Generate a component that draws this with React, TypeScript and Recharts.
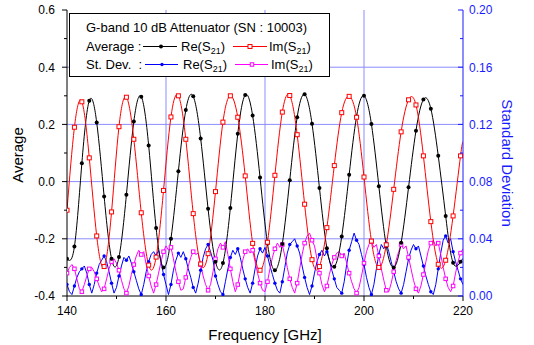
import React from "react";
import { LineChart, Line, XAxis, YAxis, CartesianGrid } from "recharts";

const FONT = "Arial, 'Liberation Sans', sans-serif";
const AXIS_BLUE = "#1a1aff";
const GRID_BLUE = "#8c8cff";
const C_RE = "#000000";
const C_IM = "#ff0000";
const C_SD_RE = "#0000ff";
const C_SD_IM = "#ff00ff";

// average curves: one value per marker (every 1.5 GHz) + end point at 220
const avgFreq = [
  140, 141.5, 143, 144.5, 146, 147.5, 149, 150.5, 152, 153.5, 155, 156.5, 158, 159.5,
  161, 162.5, 164, 165.5, 167, 168.5, 170, 171.5, 173, 174.5, 176, 177.5, 179, 180.5,
  182, 183.5, 185, 186.5, 188, 189.5, 191, 192.5, 194, 195.5, 197, 198.5, 200, 201.5,
  203, 204.5, 206, 207.5, 209, 210.5, 212, 213.5, 215, 216.5, 218, 219.5, 220,
];
const avgRe = [
  -0.27, -0.227, 0.064, 0.283, 0.207, -0.052, -0.27, -0.264, -0.046, 0.21, 0.297, 0.126,
  -0.162, -0.3, -0.2, 0.036, 0.25, 0.298, 0.151, -0.095, -0.28, -0.285, -0.092, 0.167,
  0.303, 0.231, 0.014, -0.216, -0.31, -0.218, 0.005, 0.225, 0.305, 0.202, -0.022, -0.233,
  -0.298, -0.192, 0.024, 0.228, 0.3, 0.201, -0.016, -0.225, -0.3, -0.214, -0.02, 0.178,
  0.287, 0.255, 0.09, -0.12, -0.284, -0.28, -0.27,
];
const avgIm = [
  -0.1, 0.19, 0.279, 0.083, -0.19, -0.297, -0.106, 0.192, 0.295, 0.148, -0.109, -0.292,
  -0.264, -0.031, 0.226, 0.3, 0.148, -0.112, -0.288, -0.252, -0.035, 0.208, 0.3, 0.225,
  0.02, -0.216, -0.31, -0.212, 0.022, 0.243, 0.301, 0.164, -0.079, -0.273, -0.297, -0.161,
  0.056, 0.241, 0.298, 0.225, 0.016, -0.208, -0.3, -0.221, -0.027, 0.174, 0.286, 0.268,
  0.09, -0.14, -0.289, -0.275, -0.12, 0.09, 0.14,
];

// standard deviation: 0.5 GHz steps from 140 to 220
const SD_START = 140;
const SD_STEP = 0.5;
const sdRe = [
  0.008, 0.003, 0.001, 0.007, 0.013, 0.017, 0.019, 0.021, 0.016, 0.008,
  0.002, 0.008, 0.016, 0.022, 0.025, 0.028, 0.024, 0.017, 0.009, 0.002,
  0.006, 0.014, 0.021, 0.027, 0.025, 0.028, 0.023, 0.017, 0.011, 0.005,
  0.001, 0.008, 0.017, 0.024, 0.029, 0.031, 0.028, 0.032, 0.024, 0.015,
  0.008, 0.001, 0.008, 0.018, 0.025, 0.03, 0.027, 0.031, 0.026, 0.019,
  0.013, 0.006, 0.002, 0.009, 0.018, 0.027, 0.033, 0.036, 0.031, 0.025,
  0.014, 0.008, 0.003, 0.001, 0.01, 0.019, 0.027, 0.032, 0.029, 0.033,
  0.027, 0.019, 0.012, 0.006, 0.002, 0.009, 0.019, 0.028, 0.033, 0.03,
  0.034, 0.028, 0.021, 0.015, 0.009, 0.004, 0.002, 0.01, 0.02, 0.03,
  0.036, 0.038, 0.04, 0.035, 0.03, 0.021, 0.013, 0.006, 0.001, 0.007,
  0.016, 0.024, 0.029, 0.032, 0.028, 0.031, 0.025, 0.018, 0.012, 0.006,
  0.004, 0.002, 0.01, 0.022, 0.032, 0.038, 0.044, 0.039, 0.036, 0.029,
  0.022, 0.013, 0.006, 0.001, 0.008, 0.019, 0.029, 0.036, 0.033, 0.037,
  0.031, 0.024, 0.017, 0.01, 0.005, 0.002, 0.008, 0.017, 0.026, 0.032,
  0.036, 0.033, 0.035, 0.028, 0.021, 0.014, 0.008, 0.003, 0.001, 0.008,
  0.019, 0.03, 0.039, 0.042, 0.037, 0.04, 0.031, 0.024, 0.018, 0.012,
  0.008,
];
const sdIm = [
  0.016, 0.02, 0.022, 0.019, 0.012, 0.005, 0.003, 0.008, 0.014, 0.019,
  0.02, 0.017, 0.012, 0.007, 0.003, 0.005, 0.012, 0.019, 0.024, 0.026,
  0.023, 0.018, 0.011, 0.005, 0.002, 0.007, 0.015, 0.022, 0.028, 0.032,
  0.029, 0.031, 0.022, 0.014, 0.007, 0.002, 0.008, 0.016, 0.024, 0.031,
  0.035, 0.032, 0.034, 0.026, 0.017, 0.01, 0.004, 0.005, 0.013, 0.021,
  0.027, 0.031, 0.029, 0.03, 0.022, 0.014, 0.008, 0.004, 0.008, 0.017,
  0.026, 0.033, 0.037, 0.034, 0.038, 0.029, 0.019, 0.01, 0.003, 0.008,
  0.017, 0.025, 0.031, 0.033, 0.03, 0.032, 0.024, 0.016, 0.009, 0.004,
  0.003, 0.01, 0.019, 0.027, 0.033, 0.037, 0.034, 0.036, 0.028, 0.02,
  0.012, 0.006, 0.002, 0.009, 0.019, 0.029, 0.037, 0.042, 0.044, 0.039,
  0.035, 0.026, 0.016, 0.008, 0.003, 0.007, 0.015, 0.022, 0.027, 0.03,
  0.031, 0.028, 0.03, 0.023, 0.016, 0.01, 0.005, 0.002, 0.006, 0.014,
  0.023, 0.031, 0.036, 0.038, 0.034, 0.036, 0.028, 0.019, 0.011, 0.004,
  0.003, 0.009, 0.017, 0.025, 0.031, 0.036, 0.033, 0.035, 0.027, 0.019,
  0.011, 0.005, 0.002, 0.007, 0.015, 0.024, 0.032, 0.037, 0.039, 0.035,
  0.037, 0.029, 0.02, 0.012, 0.006, 0.003, 0.007, 0.016, 0.024, 0.03,
  0.033,
];

const xTicks = [140, 150, 160, 170, 180, 190, 200, 210, 220];
const leftTicks = [-0.4, -0.3, -0.2, -0.1, 0, 0.1, 0.2, 0.3, 0.4, 0.5, 0.6];
const rightTicks = [0, 0.02, 0.04, 0.06, 0.08, 0.1, 0.12, 0.14, 0.16, 0.18, 0.2];
const gridY = [-0.2, 0, 0.2, 0.4];
const gridX = [160, 180, 200];

const avgData = avgFreq.map((f, i) => ({ f, re: avgRe[i], im: avgIm[i] }));
const sdData = sdRe.map((v, i) => ({ f: SD_START + i * SD_STEP, re: v, im: sdIm[i] }));

const BottomTick = (p: any) => {
  const v = p.payload.value;
  const major = v % 20 === 0;
  const axisY = p.y - 10;
  return (
    <g>
      <line x1={p.x} x2={p.x} y1={axisY} y2={axisY + (major ? 5 : 3)} stroke="#000" />
      {major && (
        <text x={p.x} y={p.y} dy="0.71em" textAnchor="middle" fontSize={12} fontFamily={FONT} fill="#000">
          {v}
        </text>
      )}
    </g>
  );
};

const TopTick = (p: any) => {
  const major = p.payload.value % 20 === 0;
  return <line x1={p.x} x2={p.x} y1={p.y} y2={p.y + (major ? 5 : 3)} stroke="#000" />;
};

const LeftTick = (p: any) => {
  const v = p.payload.value;
  const major = Math.round(v * 10) % 2 === 0;
  const axisX = p.x + 12;
  return (
    <g>
      <line x1={axisX - (major ? 5 : 3)} x2={axisX} y1={p.y} y2={p.y} stroke="#000" />
      {major && (
        <text x={p.x} y={p.y} dy="0.36em" textAnchor="end" fontSize={12} fontFamily={FONT} fill="#000">
          {v.toFixed(1)}
        </text>
      )}
    </g>
  );
};

const RightTick = (p: any) => {
  const v = p.payload.value;
  const major = Math.round(v * 100) % 4 === 0;
  const axisX = p.x - 6;
  return (
    <g>
      <line x1={axisX - (major ? 5 : 3)} x2={axisX} y1={p.y} y2={p.y} stroke={AXIS_BLUE} />
      {major && (
        <text x={p.x} y={p.y} dy="0.36em" textAnchor="start" fontSize={12} fontFamily={FONT} fill={AXIS_BLUE}>
          {v.toFixed(2)}
        </text>
      )}
    </g>
  );
};

const roundDot = (color: string, r: number, every: number, skipLast: number) => (p: any) => {
  if (p.cx == null || p.index % every !== 0 || p.index >= skipLast) return <g key={p.index} />;
  return <circle key={p.index} cx={p.cx} cy={p.cy} r={r} fill={color} stroke="none" />;
};

const squareDot = (color: string, s: number, every: number, skipLast: number) => (p: any) => {
  if (p.cx == null || p.index % every !== 0 || p.index >= skipLast) return <g key={p.index} />;
  return (
    <rect key={p.index} x={p.cx - s / 2} y={p.cy - s / 2} width={s} height={s} fill="#fff" stroke={color} strokeWidth={1} />
  );
};

const Sub = ({ main }: { main: string }) => (
  <>
    {main}
    <tspan fontSize={9} dy={3}>21</tspan>
    <tspan dy={-3}>)</tspan>
  </>
);

export default function App() {
  const lastAvg = avgFreq.length - 1;
  return (
    <div style={{ position: "relative", width: 534, height: 345, background: "#fff" }}>
      <style>{"body{margin:0}"}</style>
      <LineChart width={534} height={345} margin={{ top: 10, right: 11, bottom: 19, left: 17 }}>
        <CartesianGrid
          xAxisId="b"
          yAxisId="l"
          horizontalValues={gridY}
          verticalValues={gridX}
          stroke={GRID_BLUE}
          strokeWidth={1}
        />
        <XAxis
          xAxisId="b"
          dataKey="f"
          type="number"
          domain={[140, 220]}
          ticks={xTicks}
          interval={0}
          height={30}
          tickLine={false}
          tickSize={0}
          tickMargin={10}
          tick={BottomTick}
          axisLine={{ stroke: "#000" }}
          allowDataOverflow
        />
        <XAxis
          xAxisId="t"
          orientation="top"
          dataKey="f"
          type="number"
          domain={[140, 220]}
          ticks={xTicks}
          interval={0}
          height={0}
          tickLine={false}
          tickSize={0}
          tickMargin={0}
          tick={TopTick}
          axisLine={{ stroke: "#000" }}
          allowDataOverflow
        />
        <YAxis
          yAxisId="l"
          type="number"
          domain={[-0.4, 0.6]}
          ticks={leftTicks}
          interval={0}
          width={50}
          tickLine={false}
          tickSize={0}
          tickMargin={12}
          tick={LeftTick}
          axisLine={{ stroke: "#000" }}
          allowDataOverflow
        />
        <YAxis
          yAxisId="r"
          orientation="right"
          type="number"
          domain={[0, 0.2]}
          ticks={rightTicks}
          interval={0}
          width={60}
          tickLine={false}
          tickSize={0}
          tickMargin={6}
          tick={RightTick}
          axisLine={{ stroke: AXIS_BLUE }}
          allowDataOverflow
        />
        <Line
          xAxisId="b"
          yAxisId="r"
          data={sdData}
          dataKey="re"
          type="linear"
          stroke={C_SD_RE}
          strokeWidth={1}
          dot={roundDot(C_SD_RE, 1.7, 3, 9999)}
          activeDot={false}
          isAnimationActive={false}
        />
        <Line
          xAxisId="b"
          yAxisId="r"
          data={sdData}
          dataKey="im"
          type="linear"
          stroke={C_SD_IM}
          strokeWidth={1}
          dot={squareDot(C_SD_IM, 3.5, 3, 9999)}
          activeDot={false}
          isAnimationActive={false}
        />
        <Line
          xAxisId="b"
          yAxisId="l"
          data={avgData}
          dataKey="re"
          type="natural"
          stroke={C_RE}
          strokeWidth={1}
          dot={roundDot(C_RE, 2, 1, lastAvg)}
          activeDot={false}
          isAnimationActive={false}
        />
        <Line
          xAxisId="b"
          yAxisId="l"
          data={avgData}
          dataKey="im"
          type="natural"
          stroke={C_IM}
          strokeWidth={1}
          dot={squareDot(C_IM, 4, 1, lastAvg)}
          activeDot={false}
          isAnimationActive={false}
        />
      </LineChart>

      <svg
        width={534}
        height={345}
        style={{ position: "absolute", left: 0, top: 0, pointerEvents: "none" }}
        fontFamily={FONT}
      >
        <text x={17} y={155} transform="rotate(-90 17 155)" textAnchor="middle" dominantBaseline="central" fontSize={15}>
          Average
        </text>
        <text x={507} y={163} transform="rotate(90 507 163)" textAnchor="middle" dominantBaseline="central" fontSize={15} fill={AXIS_BLUE}>
          Standard Deviation
        </text>
        <text x={265} y={334} textAnchor="middle" dominantBaseline="central" fontSize={15}>
          Frequency [GHz]
        </text>

        <rect x={69.5} y={13.5} width={260} height={63} fill="#fff" stroke="#000" strokeWidth={1} />
        <text x={86} y={32} fontSize={13}>G-band 10 dB Attenuator (SN : 10003)</text>

        <text x={86} y={51} fontSize={13} style={{ whiteSpace: "pre" }}>Average :</text>
        <line x1={143} x2={177} y1={46.5} y2={46.5} stroke={C_RE} />
        <circle cx={161} cy={46.5} r={2} fill={C_RE} />
        <text x={181} y={51} fontSize={13}><Sub main="Re(S" /></text>
        <line x1={233} x2={267} y1={46.5} y2={46.5} stroke={C_IM} />
        <rect x={248} y={44.5} width={4} height={4} fill="#fff" stroke={C_IM} />
        <text x={269} y={51} fontSize={13}><Sub main="Im(S" /></text>

        <text x={86} y={69} fontSize={13} style={{ whiteSpace: "pre" }}>St. Dev.  :</text>
        <line x1={145} x2={178} y1={64.5} y2={64.5} stroke={C_SD_RE} />
        <circle cx={162} cy={64.5} r={1.7} fill={C_SD_RE} />
        <text x={183} y={69} fontSize={13}><Sub main="Re(S" /></text>
        <line x1={235} x2={268} y1={64.5} y2={64.5} stroke={C_SD_IM} />
        <rect x={250.25} y={62.75} width={3.5} height={3.5} fill="#fff" stroke={C_SD_IM} />
        <text x={271} y={69} fontSize={13}><Sub main="Im(S" /></text>
      </svg>
    </div>
  );
}
